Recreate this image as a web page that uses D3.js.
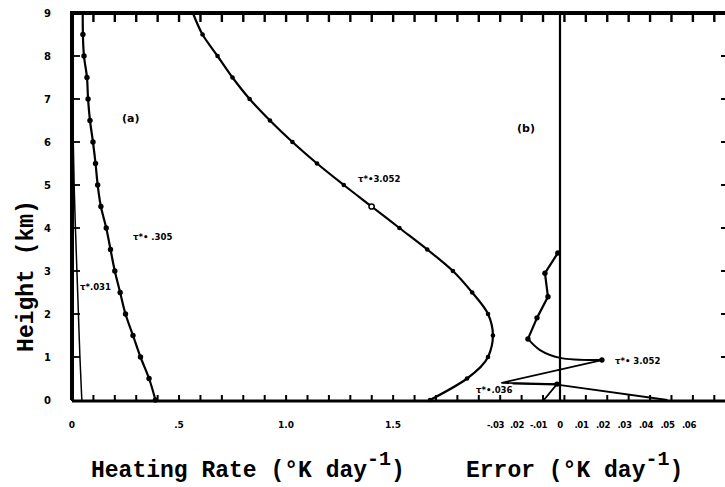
<!DOCTYPE html>
<html><head><meta charset="utf-8">
<script src="https://cdn.jsdelivr.net/npm/d3@7"></script>
<style>body{margin:0;background:#fff}svg{display:block}</style>
</head><body><svg id="c" width="725" height="487"></svg>
<script>
// ---- data ----
const heights = [0,0.5,1,1.5,2,2.5,3,3.5,4,4.5,5,5.5,6,6.5,7,7.5,8,8.5,9];
const heat031Heights = [0,1,2,3,4,5,6,7,8,9];
const heat031 = [0.046,0.037,0.030,0.023,0.016,0.010,0.006,0.004,0.003,0.003];
const heat305 = [0.39,0.36,0.32,0.285,0.25,0.225,0.20,0.18,0.16,0.135,0.12,0.11,0.098,0.084,0.075,0.07,0.056,0.051,0.05];
const heat3052 = [1.673,1.846,1.944,1.967,1.944,1.87,1.78,1.66,1.53,1.40,1.27,1.145,1.03,0.925,0.83,0.75,0.68,0.61,0.565];
const err3052Heights = [3.42,2.95,2.40,1.91,1.42,1.16,0.98,0.93,0.40,0.37,0.0];
const err3052 = [-0.001,-0.007,-0.0056,-0.0107,-0.0149,-0.0093,0.0,0.0195,-0.027,-0.0014,-0.0075];
const err036Heights = [0.38,0.36,0.0];
const err036 = [-0.022,-0.0014,0.050];
const heightTicks = [0,1,2,3,4,5,6,7,8,9];
const heatTickLabels = [[0,"0"],[0.5,".5"],[1.0,"1.0"],[1.5,"1.5"]];
const errTickLabels = [[-0.03,"-.03"],[-0.02,".02"],[-0.01,"-.01"],[0,"0"],[0.01,".01"],[0.02,".02"],[0.03,".03"],[0.04,".04"],[0.05,".05"],[0.06,".06"]];

// ---- scales ----
const svg = d3.select("#c");
const x = d3.scaleLinear().domain([0,3.0]).range([72,714]);
const xe = d3.scaleLinear().domain([0,0.06]).range([560,689]);
const y = d3.scaleLinear().domain([0,9]).range([400,13]);
const xFull = d3.scaleLinear().domain([0,3.05]).range([72,725]);
const minorTicks = d3.range(0,31).map(i=>i/10);
const INK = "#000000";

// frame (drawn from the scales)
svg.append("path").attr("d", d3.line().x(d=>xFull(d[0])).y(d=>y(d[1]))([[0,0],[0,9],[3.05,9]]))
  .attr("fill","none").attr("stroke","black").attr("stroke-width",4);
svg.append("path").attr("d", d3.line().x(d=>xFull(d[0])).y(d=>y(d[1])+1)([[0,0],[3.05,0]]))
  .attr("fill","none").attr("stroke","black").attr("stroke-width",3);
svg.append("path").attr("d", d3.line().x(d=>xe(d[0])).y(d=>y(d[1]))([[0,0],[0,9]]))
  .attr("fill","none").attr("stroke","black").attr("stroke-width",2.2);

// tick marks from scales
const tickG = svg.append("g").attr("stroke","black");
tickG.selectAll(".bt").data(minorTicks).join("path").attr("class","bt")
  .attr("d",d=>`M${xFull(d)},${y(0)+1}v-6`).attr("stroke-width",2);
tickG.selectAll(".tt").data(minorTicks.slice(1)).join("path").attr("class","tt")
  .attr("d",d=>`M${xFull(d)},${y(9)}v9`).attr("stroke-width",2.4);
tickG.selectAll(".lt").data(heightTicks.slice(1,9)).join("path").attr("class","lt")
  .attr("d",d=>`M${x(0)},${y(d)}h8`).attr("stroke-width",1.8);
tickG.selectAll(".rt").data(heightTicks.slice(1,9)).join("path").attr("class","rt")
  .attr("d",d=>`M${xFull(3.05)},${y(d)}h-4`).attr("stroke-width",2);

// y labels
svg.append("g").selectAll("text").data(heightTicks).join("text")
  .attr("x",x(0)-21).attr("y",d=>y(d)).attr("dy","0.35em").attr("text-anchor","end").text(d=>d)
  .attr("fill",INK).attr("font-family","DejaVu Sans").attr("font-weight","bold").attr("font-size",10);
// x labels
svg.append("g").selectAll("text").data(heatTickLabels).join("text")
  .attr("x",d=>x(d[0])).attr("y",y(0)+28).attr("text-anchor","middle").text(d=>d[1])
  .attr("fill",INK).attr("font-family","DejaVu Sans").attr("font-weight","bold").attr("font-size",9);
svg.append("g").selectAll("text").data(errTickLabels).join("text")
  .attr("x",d=>xe(d[0])).attr("y",y(0)+28).attr("text-anchor","middle").text(d=>d[1])
  .attr("fill",INK).attr("font-family","DejaVu Sans Condensed").attr("font-weight","bold").attr("font-size",9.5).attr("letter-spacing",-0.4);

// curves
const lineH = d3.line().x(d=>x(d[0])).y(d=>y(d[1])).curve(d3.curveMonotoneY);
const lineE = d3.line().x(d=>xe(d[0])).y(d=>y(d[1]));
const d031 = heat031.map((v,i)=>[v,heat031Heights[i]]);
const d305 = heat305.map((v,i)=>[v,heights[i]]);
const d3052 = heat3052.map((v,i)=>[v,heights[i]]);
const e3052 = err3052.map((v,i)=>[v,err3052Heights[i]]);
const e036 = err036.map((v,i)=>[v,err036Heights[i]]);

const path = (d,w)=>svg.append("path").attr("d",d).attr("fill","none").attr("stroke",INK).attr("stroke-width",w).attr("stroke-linejoin","round");
path(lineH(d031),1.5);
path(lineH(d305),2.2);
path(lineH(d3052),2.2);
path(lineE(e3052.slice(0,5)),2.2);
path(d3.line().x(d=>xe(d[0])).y(d=>y(d[1])).curve(d3.curveCatmullRom)(e3052.slice(4,8)),2);
path(lineE(e3052.slice(7)),1.8);
path(lineE(e036),1.8);

// markers
svg.append("g").selectAll("circle").data(d305.slice(0,18)).join("circle")
  .attr("cx",d=>x(d[0])).attr("cy",d=>y(d[1])).attr("r",2.7).attr("fill",INK);
svg.append("g").selectAll("circle").data(d3052.slice(0,18)).join("circle")
  .attr("cx",d=>x(d[0])).attr("cy",d=>y(d[1])).attr("r",(d,i)=>i===9?2.6:2.3)
  .attr("fill",(d,i)=>i===9?"#fff":INK).attr("stroke",INK).attr("stroke-width",(d,i)=>i===9?1.5:0);
svg.append("g").selectAll("circle").data([0,1,2,3,4,7,9].map(i=>e3052[i])).join("circle")
  .attr("cx",d=>xe(d[0])).attr("cy",d=>y(d[1])).attr("r",2.7).attr("fill",INK);

// curve labels
const lab = (t,xx,yy)=>svg.append("text").attr("x",xx).attr("y",yy).text(t).attr("fill",INK)
  .attr("font-family","DejaVu Sans Condensed").attr("font-weight","bold").attr("font-size",9.5);
lab("τ*.031",80,290);
lab("τ*• .305",133,240);
lab("τ*•3.052",358,182);
lab("τ*• 3.052",615,364);
lab("τ*•.036",476,393);
svg.append("text").attr("x",122).attr("y",122).text("(a)").attr("fill",INK).attr("font-family","DejaVu Sans").attr("font-weight","bold").attr("font-size",11);
svg.append("text").attr("x",517).attr("y",132).text("(b)").attr("fill",INK).attr("font-family","DejaVu Sans").attr("font-weight","bold").attr("font-size",11);

// axis titles
function title(xx, yy, main){
  const t = svg.append("text").attr("x",xx).attr("y",yy).attr("fill",INK)
    .attr("font-family","Liberation Mono").attr("font-weight","bold").attr("font-size",23);
  t.append("tspan").text(main);
  t.append("tspan").attr("dy",-12).attr("font-size",20).text("-1");
  t.append("tspan").attr("dy",12).text(")");
}
title(91,477,"Heating Rate (°K day");
title(466,477,"Error (°K day");
svg.append("text").attr("transform","translate(33,276) rotate(-90)").attr("text-anchor","middle").attr("fill",INK)
  .attr("font-family","Liberation Mono").attr("font-weight","bold").attr("font-size",23).text("Height (km)");
</script></body></html>
